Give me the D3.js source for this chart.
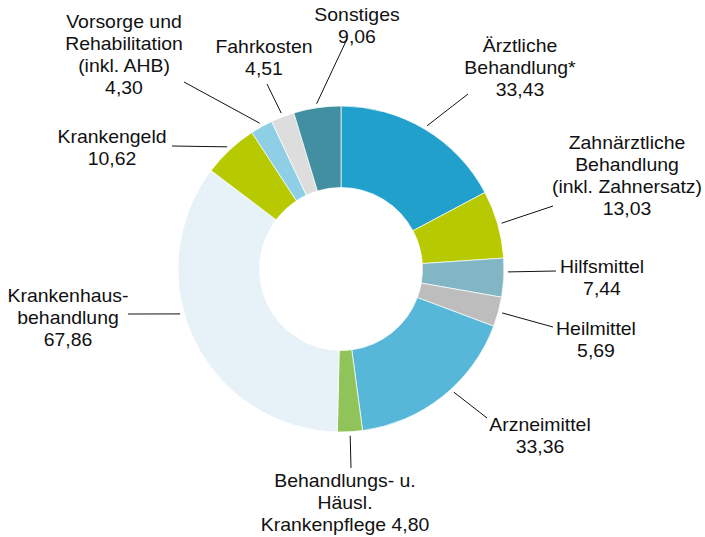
<!DOCTYPE html>
<html lang="de">
<head>
<meta charset="UTF-8">
<title>Ausgaben</title>
<script src="https://cdn.jsdelivr.net/npm/d3@7/dist/d3.min.js"></script>
<style>
  body { margin: 0; background: #fff; }
  text { font-family: "Liberation Sans", Arial, sans-serif; font-size: 18px; fill: #111; }
</style>
</head>
<body>
<div id="chart"></div>
<script>
// data
var categories = ["Ärztliche Behandlung*", "Zahnärztliche Behandlung (inkl. Zahnersatz)", "Hilfsmittel",
                  "Heilmittel", "Arzneimittel", "Behandlungs- u. Häusl. Krankenpflege", "Krankenhausbehandlung",
                  "Krankengeld", "Vorsorge und Rehabilitation (inkl. AHB)", "Fahrkosten", "Sonstiges"];
var values = [33.43, 13.03, 7.44, 5.69, 33.36, 4.80, 67.86, 10.62, 4.30, 4.51, 9.06];
var labelLines = [
  ["Ärztliche", "Behandlung*", "33,43"],
  ["Zahnärztliche", "Behandlung", "(inkl. Zahnersatz)", "13,03"],
  ["Hilfsmittel", "7,44"],
  ["Heilmittel", "5,69"],
  ["Arzneimittel", "33,36"],
  ["Behandlungs- u.", "Häusl.", "Krankenpflege 4,80"],
  ["Krankenhaus-", "behandlung", "67,86"],
  ["Krankengeld", "10,62"],
  ["Vorsorge und", "Rehabilitation", "(inkl. AHB)", "4,30"],
  ["Fahrkosten", "4,51"],
  ["Sonstiges", "9,06"]
];
var colors = ["#20a0cb", "#b7c900", "#82b6c4", "#bdbdbd", "#57b7d9", "#90c45b",
              "#e6f1f8", "#b7c900", "#8fcfe6", "#dddddd", "#418fa1"];

// layout of labels: centre x, first baseline, leader end, optional leader angle (deg)
var labelPos = [
  {x: 520, y: 52, lx: 468, ly: 94},
  {x: 627, y: 149, lx: 553, ly: 206},
  {x: 602, y: 273, lx: 556, ly: 271, a: 91},
  {x: 596, y: 335, lx: 553, ly: 327},
  {x: 540, y: 431, lx: 487, ly: 418, a: 137.5},
  {x: 345, y: 487, lx: 351, ly: 468},
  {x: 68, y: 302, lx: 128, ly: 314, a: 254.4},
  {x: 112, y: 143, lx: 172, ly: 146},
  {x: 124, y: 28, lx: 184, ly: 82},
  {x: 264, y: 53, lx: 267, ly: 84},
  {x: 357, y: 21, lx: 347, ly: 39}
];

var w = 705, h = 537;
var cx = 341, cy = 269, rOut = 163, rIn = 81.5;
var lineH = 22;

var svg = d3.select("#chart").append("svg").attr("width", w).attr("height", h);
var g = svg.append("g").attr("transform", "translate(" + cx + "," + cy + ")");

var pie = d3.pie().sort(null).value(function(d) { return d; });
var arcs = pie(values);
var arc = d3.arc().innerRadius(rIn).outerRadius(rOut);

g.selectAll("path")
  .data(arcs)
  .enter()
  .append("path")
  .attr("d", arc)
  .attr("fill", function(d, i) { return colors[i]; })
  .attr("stroke", "#fff")
  .attr("stroke-width", 0.7);

// leader lines
g.selectAll("line")
  .data(arcs)
  .enter()
  .append("line")
  .each(function(d, i) {
    var p = labelPos[i];
    var a = p.a !== undefined ? p.a * Math.PI / 180 : (d.startAngle + d.endAngle) / 2;
    var r = rOut + 4;
    d3.select(this)
      .attr("x1", r * Math.sin(a))
      .attr("y1", -r * Math.cos(a))
      .attr("x2", p.lx - cx)
      .attr("y2", p.ly - cy);
  })
  .attr("stroke", "#111")
  .attr("stroke-width", 1);

// labels
var lab = svg.selectAll("g.label")
  .data(labelLines)
  .enter()
  .append("g")
  .attr("class", "label")
  .attr("transform", function(d, i) {
    return "translate(" + labelPos[i].x + "," + labelPos[i].y + ") scale(1.08,1)";
  });

lab.each(function(lines) {
  var t = d3.select(this).append("text").attr("text-anchor", "middle");
  lines.forEach(function(s, k) {
    t.append("tspan").attr("x", 0).attr("y", k * lineH).text(s);
  });
});
</script>
</body>
</html>
